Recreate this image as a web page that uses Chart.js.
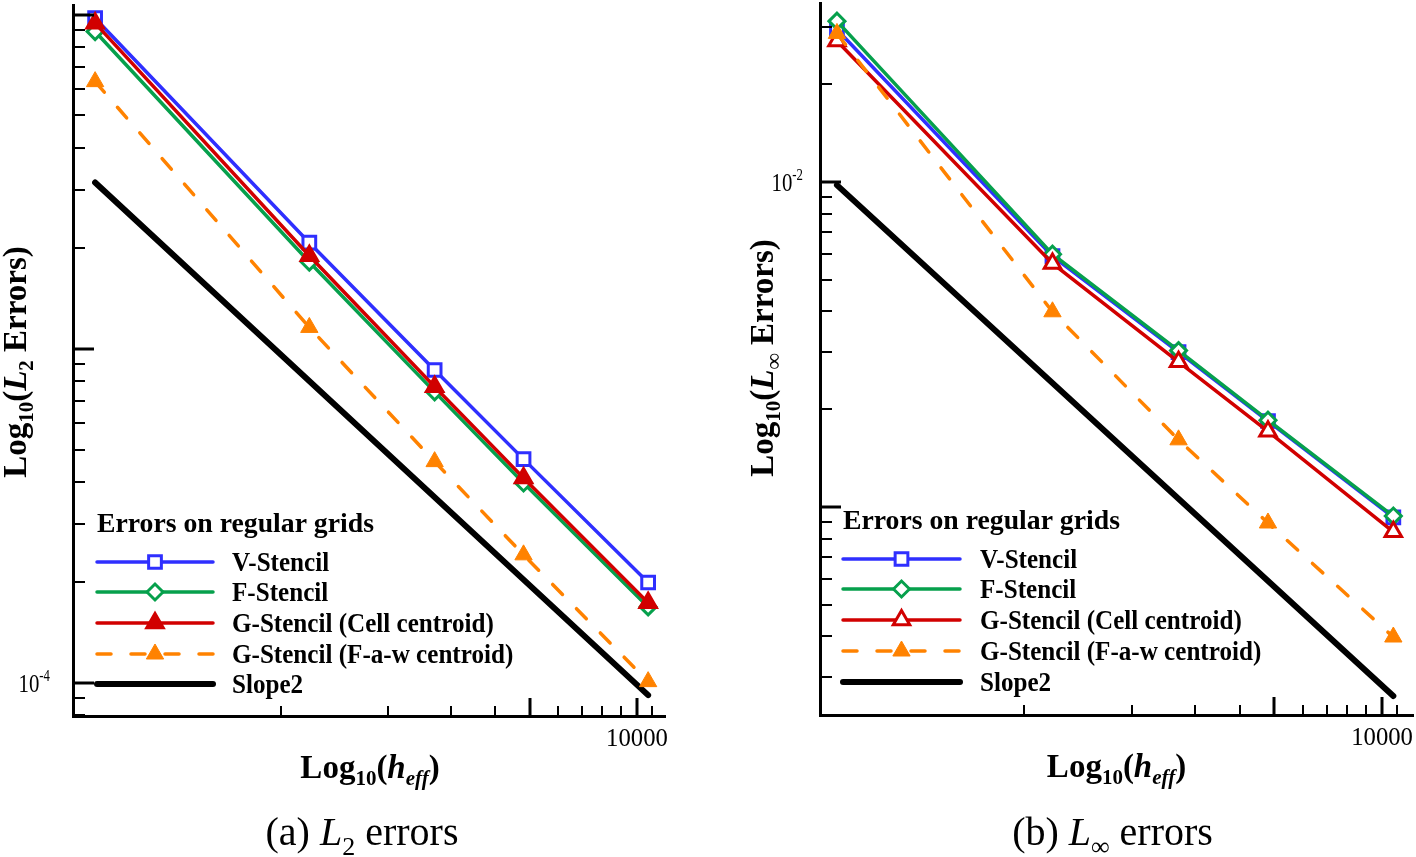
<!DOCTYPE html>
<html>
<head>
<meta charset="utf-8">
<script src="https://cdn.jsdelivr.net/npm/chart.js@4.4.1/dist/chart.umd.min.js"></script>
<style>
  html, body { margin:0; padding:0; background:#fff; }
  #wrap { position:relative; width:1416px; height:857px; overflow:hidden; }
  canvas { position:absolute; top:0; }
  #cL { left:0; }
  #cR { left:708px; }
</style>
</head>
<body>
<div id="wrap">
  <canvas id="cL" width="708" height="857"></canvas>
  <canvas id="cR" width="708" height="857"></canvas>
</div>
<script>
// ---- data ----
const hEff   = [300, 1200, 2700, 4800, 10750];
const slopeX = [300, 10750];

// (a) L2 errors
const l2V     = [9.77e-3, 2.08e-3, 8.65e-4, 4.68e-4, 2.00e-4];
const l2F     = [8.91e-3, 1.82e-3, 7.44e-4, 3.97e-4, 1.69e-4];
const l2GCell = [9.44e-3, 1.90e-3, 7.71e-4, 4.11e-4, 1.74e-4];
const l2GFaw  = [6.31e-3, 1.16e-3, 4.60e-4, 2.42e-4, 1.01e-4];
const l2Slope = [3.15e-3, 9.2e-5];

// (b) Linf errors
const linfV     = [2.95e-2, 5.92e-3, 3.00e-3, 1.84e-3, 9.30e-4];
const linfF     = [3.13e-2, 6.00e-3, 3.03e-3, 1.85e-3, 9.38e-4];
const linfGCell = [2.72e-2, 5.62e-3, 2.80e-3, 1.71e-3, 8.39e-4];
const linfGFaw  = [2.87e-2, 3.99e-3, 1.61e-3, 8.93e-4, 3.98e-4];
const linfSlope = [9.79e-3, 2.62e-4];

const seriesNames = ["V-Stencil", "F-Stencil", "G-Stencil (Cell centroid)", "G-Stencil (F-a-w centroid)", "Slope2"];
const legendTitle = "Errors on regular grids";

// tick marks (Tecplot style: majors long, only a few labelled)
const xMajorTicks = [5000, 10000];
const xMinorTicks = [1000, 2000, 3000, 4000, 6000, 7000, 8000, 9000, 11000];
const xTickLabels = [{v:10000, text:"10000"}];
const l2YMajorTicks   = [1e-4, 1e-3, 1e-2];
const linfYMajorTicks = [1e-3, 1e-2];
const l2YTickLabels   = [{v:1e-4, base:"10", exp:"-4"}];
const linfYTickLabels = [{v:1e-2, base:"10", exp:"-2"}];

const SERIF = '"Liberation Serif","Times New Roman",serif';

// minor ticks 2..9 in every decade inside [min,max]
function minorTicks(min, max){
  const out = [];
  for(let d = Math.floor(Math.log10(min)); d <= Math.ceil(Math.log10(max)); d++){
    for(let m = 2; m <= 9; m++){
      const v = m * Math.pow(10, d);
      if(v >= min && v <= max) out.push(v);
    }
  }
  return out;
}

function font(p){
  return (p.italic ? "italic " : "") + (p.bold ? "bold " : "") + p.size + "px " + SERIF;
}

// draws a run of text pieces (sub/superscripts via dy)
function drawRich(ctx, parts, x, y, align, sx){
  sx = sx || 1;
  let total = 0;
  parts.forEach(p => { ctx.font = font(p); p.w = ctx.measureText(p.t).width; total += p.w; });
  let start = x;
  if(align === "center") start = x - total*sx/2;
  else if(align === "right") start = x - total*sx;
  ctx.save();
  ctx.translate(start, y);
  ctx.scale(sx, 1);
  ctx.fillStyle = "#000";
  ctx.textBaseline = "alphabetic";
  let cx = 0;
  parts.forEach(p => { ctx.font = font(p); ctx.fillText(p.t, cx, p.dy || 0); cx += p.w; });
  ctx.restore();
}

const decorPlugin = {
  id: "decor",
  afterDraw(chart){
    const cfg = chart.options.plugins.decor;
    const ctx = chart.ctx, a = chart.chartArea;
    const xs = chart.scales.x, ys = chart.scales.y;
    ctx.save();
    ctx.strokeStyle = "#000";
    // inward ticks on y axis
    const yMinor = minorTicks(ys.min, ys.max).filter(v => !cfg.yMajor.includes(v));
    [[yMinor, 12, 2], [cfg.yMajor, 21, 3]].forEach(([list, len, lw]) => {
      ctx.lineWidth = lw;
      list.forEach(v => {
        const py = Math.round(ys.getPixelForValue(v));
        ctx.beginPath(); ctx.moveTo(a.left, py); ctx.lineTo(a.left + len, py); ctx.stroke();
      });
    });
    // inward ticks on x axis
    [[xMinorTicks, 10, 2], [xMajorTicks, 18, 3]].forEach(([list, len, lw]) => {
      ctx.lineWidth = lw;
      list.forEach(v => {
        const px = Math.round(xs.getPixelForValue(v));
        ctx.beginPath(); ctx.moveTo(px, a.bottom); ctx.lineTo(px, a.bottom - len); ctx.stroke();
      });
    });
    ctx.restore();

    // tick labels
    xTickLabels.forEach(l => {
      drawRich(ctx, [{t:l.text, size:26}], xs.getPixelForValue(l.v), a.bottom + 30, "center", 0.95);
    });
    cfg.yLabels.forEach(l => {
      const py = ys.getPixelForValue(l.v);
      drawRich(ctx, [{t:l.base, size:26}, {t:l.exp, size:16, dy:-11}], a.left - cfg.yLabelGap, py + 9, "right", 0.8);
    });

    // axis titles
    drawRich(ctx, cfg.xTitle, (a.left + a.right)/2 + cfg.xTitleShift, a.bottom + 62, "center");
    ctx.save();
    ctx.translate(cfg.yTitleX, cfg.yTitleY);
    ctx.rotate(-Math.PI/2);
    drawRich(ctx, cfg.yTitle, 0, 11, "center");
    ctx.restore();

    // caption
    drawRich(ctx, cfg.caption, (a.left + a.right)/2 + cfg.captionShift, 845, "center");

    // legend inside the plot
    const lg = cfg.legend;
    const x0 = a.left + lg.dx;
    drawRich(ctx, [{t:legendTitle, size:28, bold:true}], x0, a.bottom + lg.titleDy + 10, "left", 0.99);
    chart.data.datasets.forEach((ds, i) => {
      const y = a.bottom + lg.rowDy[i];
      ctx.save();
      ctx.strokeStyle = ds.borderColor;
      ctx.lineWidth = ds.borderWidth;
      ctx.lineCap = "round";
      ctx.setLineDash(ds.borderDash || []);
      ctx.beginPath(); ctx.moveTo(x0, y); ctx.lineTo(x0 + lg.lineLen, y); ctx.stroke();
      ctx.restore();
      if(ds.pointRadius > 0){
        ctx.save();
        ctx.fillStyle = ds.pointBackgroundColor;
        ctx.strokeStyle = ds.pointBorderColor;
        ctx.lineWidth = ds.pointBorderWidth;
        Chart.helpers.drawPoint(ctx, {pointStyle:ds.pointStyle, rotation:0, radius:ds.pointRadius, borderWidth:ds.pointBorderWidth}, x0 + lg.lineLen/2, y);
        ctx.restore();
      }
      drawRich(ctx, [{t:ds.label, size:27, bold:true}], x0 + lg.textDx, y + 9, "left", 0.93);
    });
  }
};

function pts(xv, yv){ return xv.map((x, i) => ({x, y:yv[i]})); }

function makeDatasets(v, f, gc, gf, sl, redFill){
  const blue = "#2f2fff", green = "#06a04c", red = "#d10000", orange = "#ff8200";
  return [
    {label:seriesNames[0], data:pts(hEff, v), borderColor:blue, borderWidth:3.5,
     pointStyle:"rect", pointRadius:9, pointBorderWidth:3, pointBackgroundColor:"#fff", pointBorderColor:blue, order:2},
    {label:seriesNames[1], data:pts(hEff, f), borderColor:green, borderWidth:3.5,
     pointStyle:"rectRot", pointRadius:8, pointBorderWidth:3, pointBackgroundColor:"#fff", pointBorderColor:green, order:1},
    {label:seriesNames[2], data:pts(hEff, gc), borderColor:red, borderWidth:3.5,
     pointStyle:"triangle", pointRadius:9.5, pointBorderWidth:3, pointBackgroundColor:redFill, pointBorderColor:red, order:0},
    {label:seriesNames[3], data:pts(hEff, gf), borderColor:orange, borderWidth:3.5, borderDash:[14,20], borderCapStyle:"round",
     pointStyle:"triangle", pointRadius:10, pointBorderWidth:1, pointBackgroundColor:orange, pointBorderColor:orange, order:-1},
    {label:seriesNames[4], data:pts(slopeX, sl), borderColor:"#000", borderWidth:6,
     borderCapStyle:"round", pointRadius:0, order:3}
  ];
}

function zeroPad(s){ s.paddingTop = 0; s.paddingBottom = 0; s.paddingLeft = 0; s.paddingRight = 0; }

function makeChart(id, datasets, o){
  return new Chart(document.getElementById(id), {
    type:"line",
    data:{datasets},
    plugins:[decorPlugin],
    options:{
      responsive:false, animation:false, devicePixelRatio:1,
      layout:{autoPadding:false, padding:{top:o.top, right:o.right, left:0, bottom:0}},
      elements:{line:{tension:0, fill:false}},
      datasets:{line:{clip:false}},
      scales:{
        x:{type:"logarithmic", min:o.xMin, max:o.xMax,
           ticks:{display:false}, grid:{display:false},
           border:{display:true, width:3, color:"#000"},
           afterFit:s => { s.height = o.xH; zeroPad(s); }},
        y:{type:"logarithmic", min:o.yMin, max:o.yMax,
           ticks:{display:false}, grid:{display:false},
           border:{display:true, width:3, color:"#000"},
           afterFit:s => { s.width = o.yW; zeroPad(s); }}
      },
      plugins:{
        legend:{display:false}, tooltip:{enabled:false},
        decor:o.decor
      }
    }
  });
}

const legendLeft  = {dx:24, lineLen:116, textDx:135, titleDy:-194, rowDy:[-154,-124,-93,-62,-32]};
const legendRight = {dx:23, lineLen:117, textDx:137, titleDy:-196, rowDy:[-156,-126,-95,-64,-33]};

makeChart("cL", makeDatasets(l2V, l2F, l2GCell, l2GFaw, l2Slope, "#d10000"), {
  top:5, right:43, xH:141, yW:73,
  xMin:260, xMax:11990, yMin:7.97e-5, yMax:1.07e-2,
  decor:{
    yMajor:l2YMajorTicks, yLabels:l2YTickLabels, yLabelGap:23, legend:legendLeft,
    yTitleX:15, yTitleY:362, xTitleShift:1, captionShift:-7,
    yTitle:[{t:"Log",size:33,bold:true},{t:"10",size:21,bold:true,dy:7},{t:"(",size:33,bold:true},
            {t:"L",size:33,bold:true,italic:true},{t:"2",size:21,bold:true,dy:7},{t:" Errors)",size:33,bold:true}],
    xTitle:[{t:"Log",size:33,bold:true},{t:"10",size:21,bold:true,dy:7},{t:"(",size:33,bold:true},
            {t:"h",size:33,bold:true,italic:true},{t:"eff",size:21,bold:true,italic:true,dy:7},{t:")",size:33,bold:true}],
    caption:[{t:"(a) ",size:40},{t:"L",size:40,italic:true},{t:"2",size:26,dy:10},{t:" errors",size:40}]
  }
});

makeChart("cR", makeDatasets(linfV, linfF, linfGCell, linfGFaw, linfSlope, "#fff"), {
  top:3, right:3, xH:142, yW:112,
  xMin:269, xMax:12200, yMin:2.29e-4, yMax:3.56e-2,
  decor:{
    yMajor:linfYMajorTicks, yLabels:linfYTickLabels, yLabelGap:17, legend:legendRight,
    yTitleX:54, yTitleY:358, xTitleShift:0, captionShift:-4,
    yTitle:[{t:"Log",size:33,bold:true},{t:"10",size:21,bold:true,dy:7},{t:"(",size:33,bold:true},
            {t:"L",size:33,bold:true,italic:true},{t:"\u221e",size:23,bold:true,dy:8},{t:" Errors)",size:33,bold:true}],
    xTitle:[{t:"Log",size:33,bold:true},{t:"10",size:21,bold:true,dy:7},{t:"(",size:33,bold:true},
            {t:"h",size:33,bold:true,italic:true},{t:"eff",size:21,bold:true,italic:true,dy:7},{t:")",size:33,bold:true}],
    caption:[{t:"(b) ",size:40},{t:"L",size:40,italic:true},{t:"\u221e",size:26,dy:10},{t:" errors",size:40}]
  }
});
</script>
</body>
</html>
